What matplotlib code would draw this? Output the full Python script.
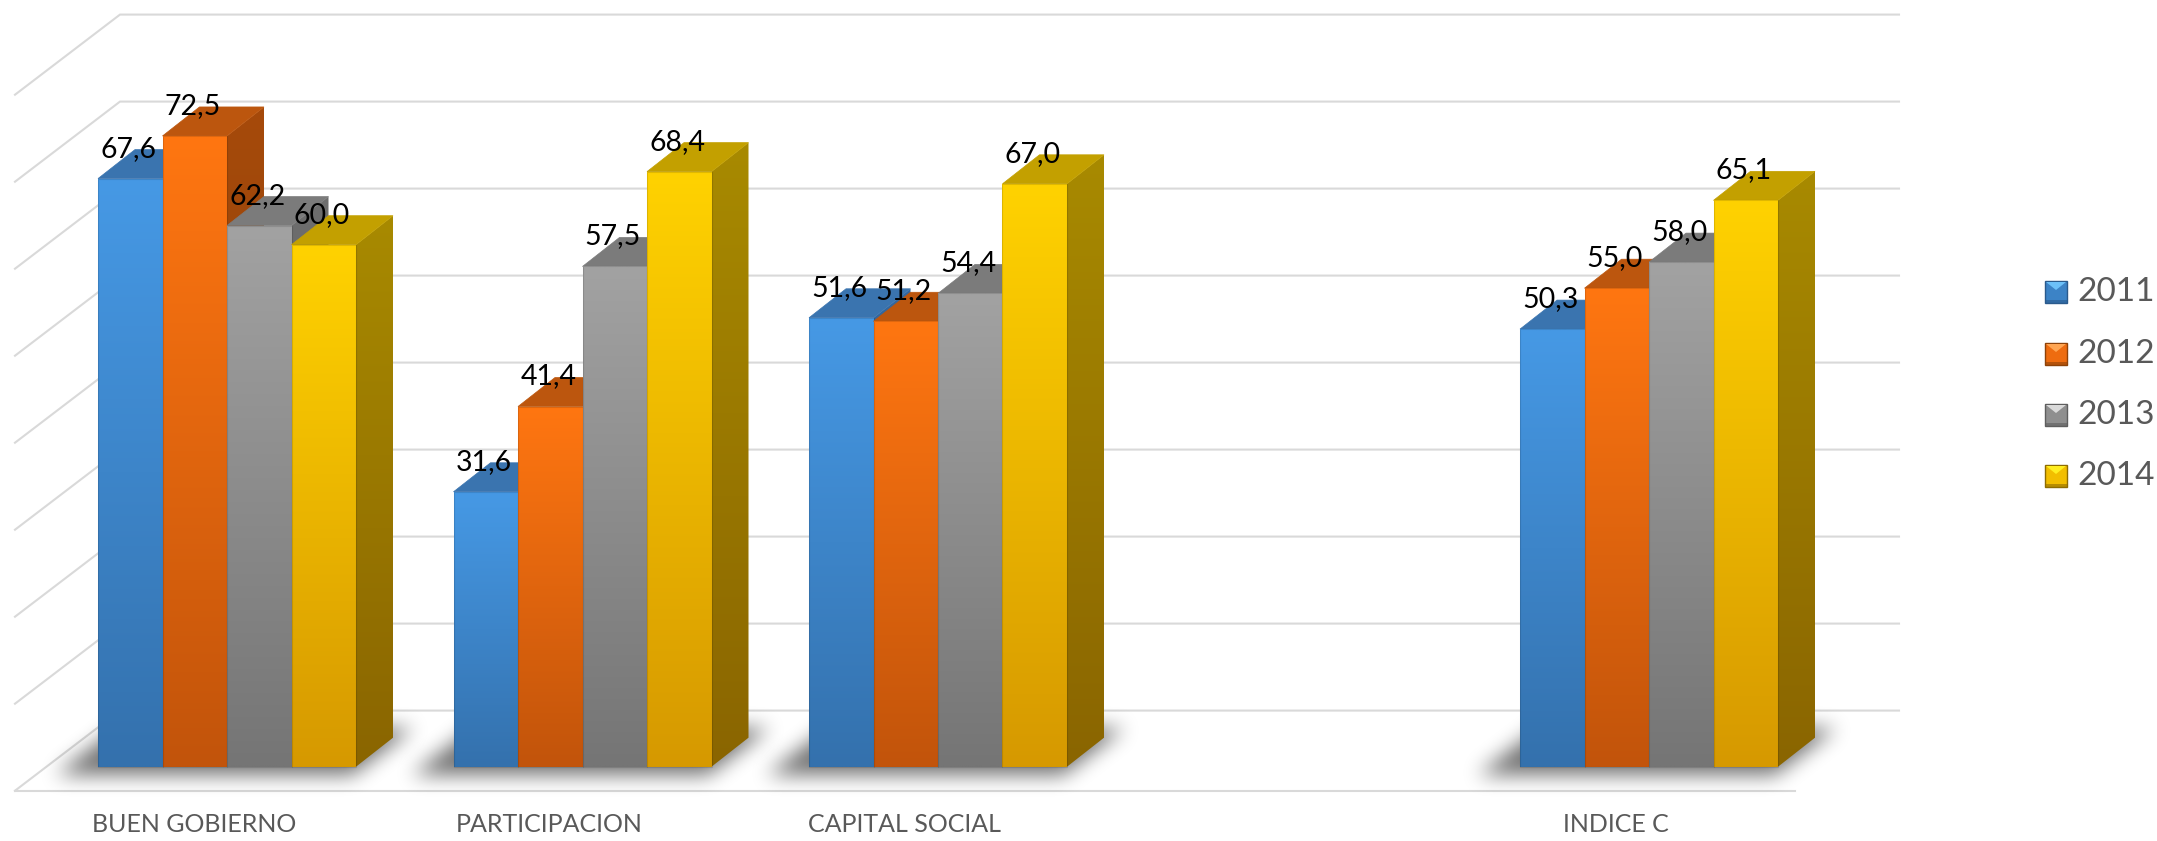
import numpy as np
import matplotlib
matplotlib.use("Agg")
import matplotlib.pyplot as plt
from matplotlib.colors import to_rgb
from matplotlib.patches import Polygon

# Data (the empty category is a real gap in the original chart)
categories = ["BUEN GOBIERNO", "PARTICIPACION", "CAPITAL SOCIAL", "", "INDICE C"]
years = ["2011", "2012", "2013", "2014"]
v2011 = [67.6, 31.6, 51.6, None, 50.3]
v2012 = [72.5, 41.4, 51.2, None, 55.0]
v2013 = [62.2, 57.5, 54.4, None, 58.0]
v2014 = [60.0, 68.4, 67.0, None, 65.1]
series = [v2011, v2012, v2013, v2014]
grid_levels = [0, 10, 20, 30, 40, 50, 60, 70, 80]

# Colours: front top, front bottom, side top, side bottom, top face
styles = [
    ("#4699E5", "#3471AD", "#35689F", "#2A5483", "#3A74AF"),
    ("#FF7611", "#C2540B", "#A64A0B", "#854008", "#BC560E"),
    ("#A2A2A2", "#757575", "#6E6E6E", "#585858", "#7B7B7B"),
    ("#FFD200", "#D69900", "#A88A00", "#8A6500", "#C3A000"),
]
legend_colors = [
    ("#6CC0F8", "#3C83C6", "#2A5A8C"),
    ("#FFA552", "#EE6C10", "#8E4208"),
    ("#DADADA", "#8F8F8F", "#5E5E5E"),
    ("#FFEE20", "#F2BE00", "#8E6C00"),
]

W, H = 2157, 841
PX_GROUP = 355.5
PX_UNIT = 8.7
PX_BASE = 766.7
PX_C0 = 227.0
BAR_W = 64.5 / PX_GROUP
DX = 37 / PX_GROUP
DY = 29 / PX_UNIT


def px_x(p):
    return (p - PX_C0) / PX_GROUP


def px_y(p):
    return (PX_BASE - p) / PX_UNIT


fig = plt.figure(figsize=(W / 100, H / 100), dpi=100)
ax = fig.add_axes([0, 0, 1, 1])
ax.axis("off")
xlim = (px_x(0), px_x(W))
ylim = (px_y(H), px_y(0))
plt.rcParams["font.family"] = ["Lato", "DejaVu Sans"]


def gradient(c_top, c_bot):
    a, b = np.array(to_rgb(c_top)), np.array(to_rgb(c_bot))
    t = np.linspace(0, 1, 128)[:, None, None]
    return a[None, None, :] * (1 - t) + b[None, None, :] * t


def fill_grad(poly, c_top, c_bot, z):
    xs, ys = zip(*poly)
    im = ax.imshow(gradient(c_top, c_bot), extent=(min(xs), max(xs), min(ys), max(ys)),
                   aspect="auto", origin="upper", zorder=z, interpolation="bilinear")
    patch = Polygon(poly, closed=True, transform=ax.transData, fc="none", ec="none")
    ax.add_patch(patch)
    im.set_clip_path(patch)


def box_blur(a, r):
    kernel = np.ones(2 * r + 1) / (2 * r + 1)
    a = np.apply_along_axis(lambda m: np.convolve(m, kernel, mode="same"), 0, a)
    return np.apply_along_axis(lambda m: np.convolve(m, kernel, mode="same"), 1, a)


# walls and floor lines
GRID = "#D9D9D9"
for lv in grid_levels:
    front = lv - 2.76
    back = lv + 6.45
    ax.plot([px_x(15), px_x(120), px_x(1899)], [front, back, back], color=GRID, lw=1.5, zorder=1,
            solid_joinstyle="miter")
ax.plot([px_x(15), px_x(1795)], [-2.76, -2.76], color=GRID, lw=1.5, zorder=1)

# soft floor shadow under each group, built once on a small pixel grid
sh_w, sh_h = 480, 130
yy, xx = np.mgrid[0:sh_h, 0:sh_w]
# parallelogram: back edge at row 38, front edge at row 84, sheared to the right going back
t = (84 - yy) / 46.0
inside = (yy >= 38) & (yy <= 84) & (xx >= 56 + t * 60) & (xx <= 352 + t * 60)
mask = inside.astype(float)
for _ in range(3):
    mask = box_blur(mask, 9)
rgba = np.zeros((sh_h, sh_w, 4))
rgba[..., 3] = mask * 0.56
for i, cat in enumerate(categories):
    if not cat:
        continue
    off = i * PX_GROUP
    ax.imshow(rgba, extent=(px_x(off), px_x(off + sh_w), px_y(690 + sh_h), px_y(690)),
              aspect="auto", origin="upper", zorder=2, interpolation="bilinear")

# bars, left to right so each front covers its neighbour's side
z = 3
for i in range(len(categories)):
    for k, vals in enumerate(series):
        v = vals[i]
        if v is None:
            continue
        c_top, c_bot, s_top, s_bot, c_face = styles[k]
        x0 = i - 2 * BAR_W + k * BAR_W
        x1 = x0 + BAR_W
        side = [(x1, 0), (x1 + DX, DY), (x1 + DX, v + DY), (x1, v)]
        fill_grad(side, s_top, s_bot, z)
        top = [(x0, v), (x1, v), (x1 + DX, v + DY), (x0 + DX, v + DY)]
        ax.add_patch(Polygon(top, closed=True, fc=c_face, ec=c_face, lw=0.5, zorder=z + 0.1))
        front = [(x0, 0), (x1, 0), (x1, v), (x0, v)]
        fill_grad(front, c_top, c_bot, z + 0.2)
        ax.add_patch(Polygon(front, closed=True, fc="none", ec="#000000", lw=0.8, alpha=0.12,
                             zorder=z + 0.3))
        z += 1

# value labels
for i in range(len(categories)):
    for k, vals in enumerate(series):
        v = vals[i]
        if v is None:
            continue
        xc = i - 2 * BAR_W + (k + 0.5) * BAR_W - 2 / PX_GROUP
        ax.text(xc, v + 30 / PX_UNIT, f"{v:.1f}".replace(".", ","), ha="center", va="center",
                fontsize=20.5, color="black", zorder=200)

# category labels
for i, cat in enumerate(categories):
    ax.text(i - 33 / PX_GROUP, px_y(825), cat, ha="center", va="center", fontsize=18,
            color="#595959", zorder=200)

# legend
leg_y = [292, 354, 415, 476]
for name, py, (hi, mid, lo) in zip(years, leg_y, legend_colors):
    x0, x1 = 2045, 2067
    y0, y1 = py - 11, py + 11
    cx, cy = (x0 + x1) / 2, y0 + 9
    frame = [(x0, y0), (x1, y0), (x1, y1), (x0, y1)]
    ax.add_patch(Polygon([(px_x(a), px_y(b)) for a, b in frame], closed=True, fc=mid, ec=lo,
                         lw=1.0, zorder=200))
    tri = [(x0 + 1, y0 + 1), (x1 - 1, y0 + 1), (cx, cy)]
    ax.add_patch(Polygon([(px_x(a), px_y(b)) for a, b in tri], closed=True, fc=hi, ec="none",
                         zorder=201))
    band = [(x0, y1 - 3), (x1, y1 - 3), (x1, y1), (x0, y1)]
    ax.add_patch(Polygon([(px_x(a), px_y(b)) for a, b in band], closed=True, fc=lo, ec="none",
                         alpha=0.6, zorder=201))
    ax.text(px_x(2077), px_y(py), name, ha="left", va="center", fontsize=24, color="#595959",
            zorder=200)

ax.set_xlim(*xlim)
ax.set_ylim(*ylim)
fig.savefig("out.png", dpi=100, facecolor="white")
